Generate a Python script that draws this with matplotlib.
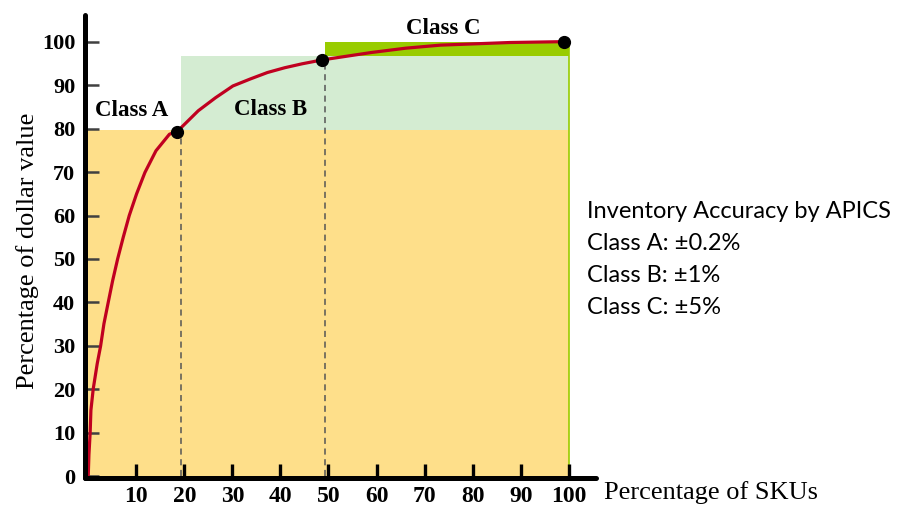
import matplotlib
matplotlib.use("Agg")
import matplotlib.pyplot as plt
from matplotlib.patches import Rectangle

# Cumulative ABC curve: % of SKUs vs % of dollar value
sku_pct = [0, 0.15, 0.4, 0.56, 1.04, 1.87, 2.58, 3.27, 4.16, 5.08, 6.12, 7.29,
           8.54, 10.07, 11.8, 14.1, 16.9, 18.5, 22.9, 26.5, 30.1, 33.7, 37.3,
           40.9, 44.5, 48.7, 51.7, 58.9, 66.1, 73.3, 80.5, 87.7, 99.0]
value_pct = [0, 5, 10, 15.2, 20.1, 25.9, 30, 35.1, 40, 45, 50, 55,
             60, 65, 69.9, 74.9, 78.7, 79.3, 84.1, 87.1, 89.8, 91.4, 92.9,
             94.0, 94.9, 95.8, 96.3, 97.5, 98.5, 99.2, 99.5, 99.8, 100]

# Class breakpoints marked on the curve
break_sku = [18.5, 48.7, 99.0]
break_value = [79.3, 95.8, 100]

# Class band limits (SKU %) and value levels
band_sku = [0, 19.3, 49.3, 100]
band_value = [79.6, 96.7, 100]

class_names = ["Class A", "Class B", "Class C"]
class_label_pos = [(9.0, 83.0), (38.0, 83.2), (73.8, 101.8)]

x_ticks = [10, 20, 30, 40, 50, 60, 70, 80, 90, 100]
y_ticks = [0, 10, 20, 30, 40, 50, 60, 70, 80, 90, 100]

accuracy_lines = ["Inventory Accuracy by APICS", "Class A: \u00b10.2%",
                  "Class B: \u00b11%", "Class C: \u00b15%"]

ORANGE = "#FEDF8A"
LIGHT_GREEN = "#D4ECD2"
DARK_GREEN = "#99CC00"
RED = "#C00020"

fig = plt.figure(figsize=(8.98, 5.07), dpi=100)
ax = fig.add_axes([0.0945, 0.058, 0.5693, 0.913])
ax.set_xlim(-0.7, 105.7)
ax.set_ylim(-0.3, 106.2)

# Shaded class bands
ax.add_patch(Rectangle((ax.get_xlim()[0], 0), band_sku[3] - ax.get_xlim()[0],
                       band_value[0], facecolor=ORANGE, edgecolor="none", zorder=1))
ax.add_patch(Rectangle((band_sku[1], band_value[0]), band_sku[3] - band_sku[1],
                       band_value[1] - band_value[0], facecolor=LIGHT_GREEN,
                       edgecolor="none", zorder=1))
ax.add_patch(Rectangle((band_sku[2], band_value[1]), band_sku[3] - band_sku[2],
                       band_value[2] - band_value[1], facecolor=DARK_GREEN,
                       edgecolor="none", zorder=1))
ax.plot([band_sku[3], band_sku[3]], [0, band_value[2]], color=DARK_GREEN,
        lw=1.2, zorder=1.5)

# Dashed drop lines at the class boundaries
for xb, yb in zip(band_sku[1:3], break_value[:2]):
    ax.plot([xb, xb], [0, yb], color="#555555", lw=1.1,
            dashes=(4, 3), zorder=2)

# Curve and breakpoints
ax.plot(sku_pct, value_pct, color=RED, lw=2.3, solid_capstyle="round",
        solid_joinstyle="round", zorder=3)
ax.plot(break_sku, break_value, "o", color="black", ms=8.5, zorder=4)

serif = ["Liberation Serif", "DejaVu Serif"]
for name, (cx, cy) in zip(class_names, class_label_pos):
    ax.text(cx, cy, name, family=serif, weight="bold", fontsize=16.5,
            ha="center", va="baseline", zorder=5)

# Axes styling
for side in ("top", "right"):
    ax.spines[side].set_visible(False)
for side in ("left", "bottom"):
    ax.spines[side].set_linewidth(3.6)
    ax.spines[side].set_color("black")
    ax.spines[side].set_capstyle("round")
    ax.spines[side].set_zorder(6)

ax.set_xticks(x_ticks)
ax.set_yticks(y_ticks)
ax.tick_params(axis="x", direction="in", length=10, width=2.4, color="black",
               pad=6, labelsize=17)
ax.tick_params(axis="y", direction="in", length=10, width=1.8, color="#404040",
               pad=7, labelsize=16)
for lbl in ax.get_xticklabels() + ax.get_yticklabels():
    lbl.set_family(serif)
    lbl.set_fontweight("bold")

ax.set_facecolor("none")

# Axis titles
fig.text(0.031, 0.505, "Percentage of dollar value", family=serif, fontsize=19,
         rotation=90, ha="center", va="center")
fig.text(0.673, 0.028, "Percentage of SKUs", family=serif, fontsize=19,
         ha="left", va="center")

# Accuracy note
sans = ["Lato", "DejaVu Sans"]
for i, line in enumerate(accuracy_lines):
    fig.text(0.654, 1 - (212 + 32 * i) / 507, line, family=sans, fontsize=17,
             ha="left", va="center")

fig.savefig("out.png", dpi=100)
